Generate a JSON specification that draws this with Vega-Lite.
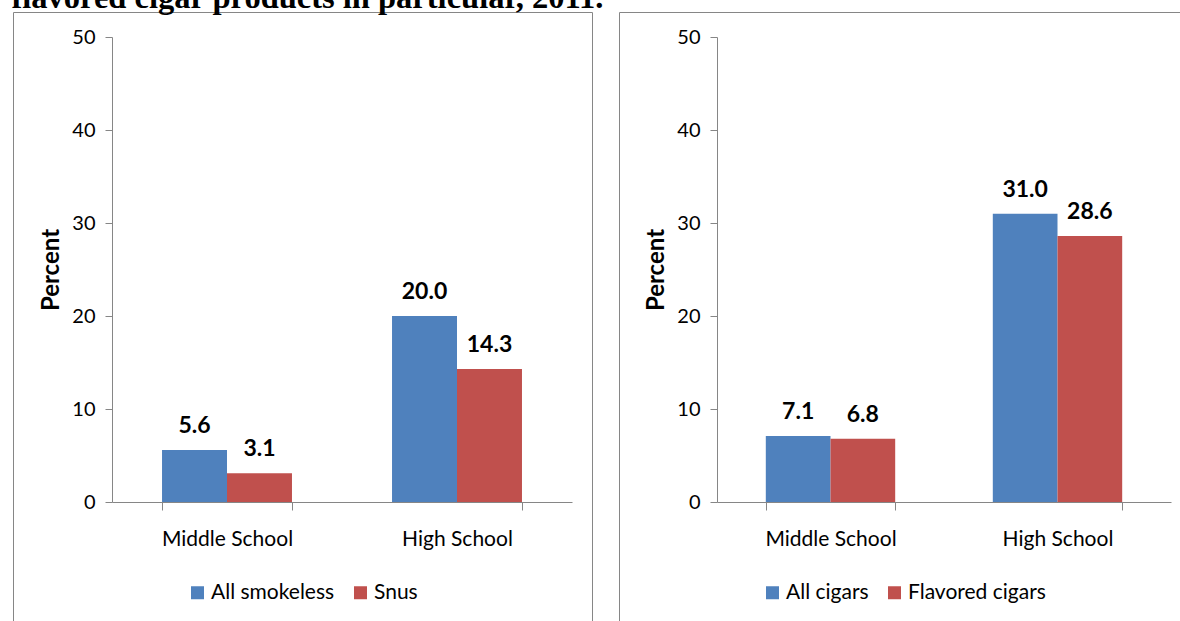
{
  "$schema": "https://vega.github.io/schema/vega-lite/v6.json",
  "padding": {"left": 11, "top": -18, "right": 0, "bottom": 0},
  "background": "white",
  "title": {
    "text": "flavored cigar products in particular, 2011.",
    "anchor": "start",
    "font": "Liberation Serif",
    "fontSize": 32.5,
    "fontWeight": "bold",
    "color": "black",
    "baseline": "alphabetic",
    "offset": -29,
    "dx": -1
  },
  "datasets": {
    "smokeless": [
      {"school": "Middle School", "product": "All smokeless", "pct": 5.6},
      {"school": "Middle School", "product": "Snus", "pct": 3.1},
      {"school": "High School", "product": "All smokeless", "pct": 20.0},
      {"school": "High School", "product": "Snus", "pct": 14.3}
    ],
    "cigars": [
      {"school": "Middle School", "product": "All cigars", "pct": 7.1},
      {"school": "Middle School", "product": "Flavored cigars", "pct": 6.8},
      {"school": "High School", "product": "All cigars", "pct": 31.0},
      {"school": "High School", "product": "Flavored cigars", "pct": 28.6}
    ]
  },
  "spacing": 25,
  "hconcat": [
    {
      "width": 579,
      "height": 620,
      "data": {"name": "smokeless"},
      "encoding": {
        "x": {
          "field": "school", "type": "nominal",
          "sort": ["Middle School", "High School"],
          "scale": {"range": [99, 559], "paddingInner": 0.435, "paddingOuter": 0.2175},
          "axis": {"title": null, "offset": -130, "labelAngle": 0}
        },
        "xOffset": {
          "field": "product", "type": "nominal",
          "sort": ["All smokeless", "Snus"],
          "scale": {"paddingInner": 0, "paddingOuter": 0}
        },
        "y": {
          "field": "pct", "type": "quantitative",
          "scale": {"domain": [0, 50], "range": [490, 25], "nice": false, "zero": true},
          "axis": {"title": "Percent", "offset": -99, "values": [0, 10, 20, 30, 40, 50]}
        }
      },
      "layer": [
        {
          "mark": {"type": "bar"},
          "encoding": {
            "color": {
              "field": "product", "type": "nominal",
              "sort": ["All smokeless", "Snus"],
              "scale": {"domain": ["All smokeless", "Snus"], "range": ["#4F81BD", "#C0504D"]},
              "legend": {"orient": "none", "legendX": 174, "legendY": 570, "direction": "horizontal", "title": null}
            }
          }
        },
        {
          "mark": {"type": "text", "dy": -17, "baseline": "alphabetic", "font": "Lato", "fontSize": 23, "fontWeight": "bold", "color": "black"},
          "encoding": {"text": {"field": "pct", "type": "quantitative", "format": ".1f"}}
        }
      ]
    },
    {
      "width": 570,
      "height": 620,
      "data": {"name": "cigars"},
      "encoding": {
        "x": {
          "field": "school", "type": "nominal",
          "sort": ["Middle School", "High School"],
          "scale": {"range": [98, 552], "paddingInner": 0.43, "paddingOuter": 0.215},
          "axis": {"title": null, "offset": -130, "labelAngle": 0}
        },
        "xOffset": {
          "field": "product", "type": "nominal",
          "sort": ["All cigars", "Flavored cigars"],
          "scale": {"paddingInner": 0, "paddingOuter": 0}
        },
        "y": {
          "field": "pct", "type": "quantitative",
          "scale": {"domain": [0, 50], "range": [490, 25], "nice": false, "zero": true},
          "axis": {"title": "Percent", "offset": -98, "values": [0, 10, 20, 30, 40, 50]}
        }
      },
      "layer": [
        {
          "mark": {"type": "bar"},
          "encoding": {
            "color": {
              "field": "product", "type": "nominal",
              "sort": ["All cigars", "Flavored cigars"],
              "scale": {"domain": ["All cigars", "Flavored cigars"], "range": ["#4F81BD", "#C0504D"]},
              "legend": {"orient": "none", "legendX": 143, "legendY": 570, "direction": "horizontal", "title": null}
            }
          }
        },
        {
          "mark": {"type": "text", "dy": -17, "baseline": "alphabetic", "font": "Lato", "fontSize": 23, "fontWeight": "bold", "color": "black"},
          "encoding": {"text": {"field": "pct", "type": "quantitative", "format": ".1f"}}
        }
      ]
    }
  ],
  "resolve": {
    "scale": {"x": "independent", "y": "independent", "xOffset": "independent", "color": "independent"},
    "legend": {"color": "independent"}
  },
  "config": {
    "view": {"stroke": "#868686", "strokeWidth": 1},
    "axis": {
      "domainColor": "#868686",
      "tickColor": "#868686",
      "grid": false,
      "labelColor": "black",
      "labelFont": "Lato",
      "titleFont": "Lato",
      "titleFontWeight": "bold",
      "titleFontSize": 24,
      "titleColor": "black"
    },
    "axisX": {
      "tickBand": "extent",
      "tickSize": 8,
      "labelFontSize": 21,
      "labelBaseline": "alphabetic",
      "labelPadding": 35,
      "labelFlush": false
    },
    "axisY": {
      "tickSize": 7,
      "labelFontSize": 20,
      "labelPadding": 10,
      "titlePadding": 8
    },
    "legend": {
      "padding": 0,
      "symbolType": "square",
      "symbolSize": 169,
      "symbolStrokeWidth": 0,
      "labelFont": "Lato",
      "labelFontSize": 21,
      "labelColor": "black",
      "labelOffset": 3,
      "columnPadding": 15,
      "labelLimit": 400
    }
  }
}
